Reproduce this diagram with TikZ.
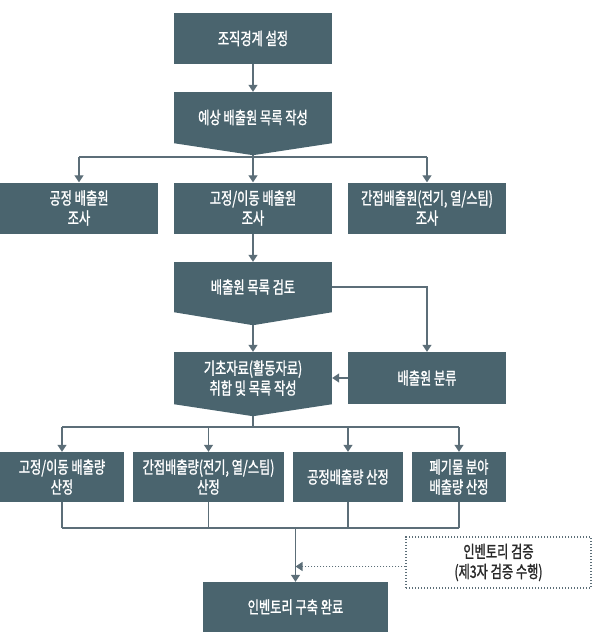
\documentclass[tikz,border=0pt]{standalone}
\usepackage{fontspec}
\setmainfont{Noto Sans CJK KR}[FakeStretch=0.72,FakeBold=1.2]
\usetikzlibrary{arrows.meta,positioning,calc}
\definecolor{boxfill}{RGB}{74,100,110}
\definecolor{linegray}{RGB}{92,110,120}
\definecolor{txtdark}{RGB}{40,40,40}
\tikzset{
  box/.style={fill=boxfill,text=white,align=center,minimum height=51,inner sep=0pt,
    font=\fontsize{17}{20}\selectfont},
  line/.style={draw=linegray,line width=1.2},
  arr/.style={line,-{Triangle[width=9,length=7]}},
  dotline/.style={draw=linegray,line width=1.2,dash pattern=on 1.2pt off 1.8pt},
}

\begin{document}
\begin{tikzpicture}[x=1pt,y=-1pt]
  \useasboundingbox (0,0) rectangle (612,642);
  % main column
  \node[box,minimum width=158] (org) at (253,38.5) {조직경계 설정};
  \node[box,minimum width=158] (est) at (253,117.5) {예상 배출원 목록 작성};
  \coordinate (esttip) at ([yshift=-12pt]est.south);
  \fill[boxfill] (est.south west) -- (est.south east) -- (esttip) -- cycle;
  \draw[arr] (org.south) -- (est.north);
  % source survey
  \node[box,minimum width=158] (srcA) at (79,208) {공정 배출원\\조사};
  \node[box,minimum width=158] (srcB) at (253,208) {고정/이동 배출원\\조사};
  \node[box,minimum width=158] (srcC) at (427,208) {간접배출원(전기, 열/스팀)\\조사};
  \coordinate (split1) at (253,157);
  \draw[line] (esttip) -- (split1);
  \draw[line] (srcA.north |- split1) -- (srcC.north |- split1);
  \foreach \n in {srcA,srcB,srcC}
    \draw[arr] (\n.north |- split1) -- (\n.north);
  % review and classify
  \node[box,minimum width=158,minimum height=50] (review) at (253,287) {배출원 목록 검토};
  \coordinate (reviewtip) at ([yshift=-13pt]review.south);
  \fill[boxfill] (review.south west) -- (review.south east) -- (reviewtip) -- cycle;
  \draw[arr] (srcB.south) -- (review.north);
  \node[box,minimum width=158,minimum height=52] (data) at (253,378) {기초자료(활동자료)\\취합 및 목록 작성};
  \coordinate (datatip) at ([yshift=-12pt]data.south);
  \fill[boxfill] (data.south west) -- (data.south east) -- (datatip) -- cycle;
  \node[box,minimum width=158,minimum height=52] (classify) at (427,378) {배출원 분류};
  \draw[arr] (reviewtip) -- (data.north);
  \draw[arr] (review.east) -| (classify.north);
  \draw[arr] (classify.west) -- (data.east);
  % emission calculation
  \node[box,minimum width=124,minimum height=50] (calcA) at (62,477) {고정/이동 배출량\\산정};
  \node[box,minimum width=151,minimum height=50] (calcB) at (208.5,477) {간접배출량(전기, 열/스팀)\\산정};
  \node[box,minimum width=110,minimum height=50] (calcC) at (348,477) {공정배출량 산정};
  \node[box,minimum width=94,minimum height=50] (calcD) at (459,477) {폐기물 분야\\배출량 산정};
  \coordinate (split2) at (253,427);
  \draw[line] (datatip) -- (split2);
  \draw[line] (calcA.north |- split2) -- (calcD.north |- split2);
  \foreach \n in {calcA,calcB,calcC,calcD}
    \draw[arr] (\n.north |- split2) -- (\n.north);
  % completion
  \node[box,minimum width=185,minimum height=50] (final) at (295.5,607) {인벤토리 구축 완료};
  \coordinate (merge) at (295.5,528);
  \foreach \n in {calcA,calcB,calcC,calcD}
    \draw[line] (\n.south) -- (\n.south |- merge);
  \draw[line] (calcA.south |- merge) -- (calcD.south |- merge);
  \draw[arr] (merge) -- (final.north);
  % verification
  \node[dotline,text=txtdark,align=center,minimum width=185,minimum height=51,inner sep=0pt,
    font=\fontsize{17}{20}\selectfont] (verify) at (498.5,562.5) {인벤토리 검증\\(제3자 검증 수행)};
  \draw[dotline,-{Triangle[width=9,length=7]}] ([yshift=-4pt]verify.west) -- ([yshift=-4pt]verify.west -| final.north);
\end{tikzpicture}
\end{document}
